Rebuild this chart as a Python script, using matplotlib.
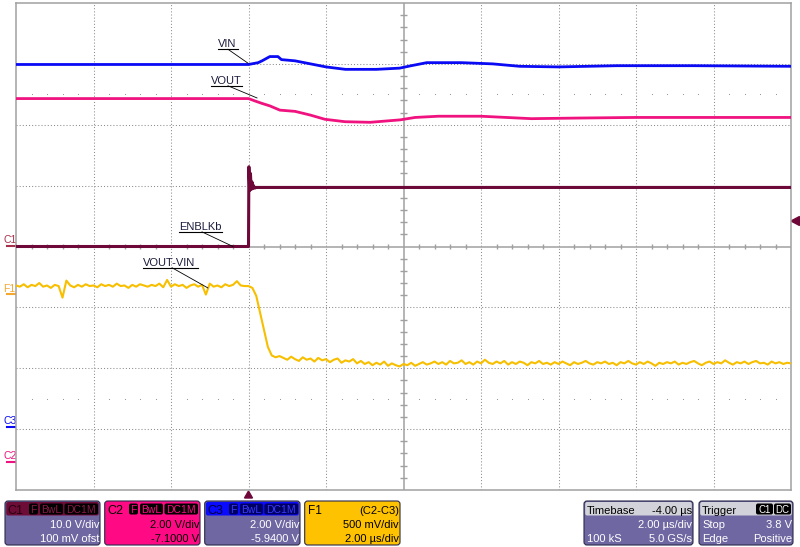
import numpy as np
import matplotlib.pyplot as plt
from matplotlib.patches import FancyBboxPatch, Polygon

plt.rcParams['font.family'] = ['Liberation Sans', 'DejaVu Sans']

# time in us (trigger at 0), levels in screen divisions from centre
t_vin = [-6.0, 0.0, 0.25, 0.35, 0.55, 0.76, 0.85, 1.2, 1.6, 2.0, 2.5, 3.3, 3.9, 4.2, 4.6,
         5.5, 6.3, 7.0, 8.0, 9.5, 11.5, 14.0]
vin = [2.99, 2.99, 3.02, 3.05, 3.12, 3.12, 3.07, 3.05, 3.0, 2.95, 2.91, 2.91, 2.93, 2.97, 3.02,
       3.02, 3.0, 2.96, 2.95, 2.97, 2.97, 2.96]

t_vout = [-6.0, 0.0, 0.17, 0.35, 0.55, 0.81, 1.2, 1.59, 1.97, 2.49, 3.14, 3.52, 3.91, 4.3,
          4.9, 6.0, 7.3, 8.5, 10.0, 14.0]
vout = [2.43, 2.43, 2.39, 2.35, 2.31, 2.24, 2.22, 2.16, 2.09, 2.05, 2.04, 2.06, 2.08, 2.12,
        2.14, 2.14, 2.10, 2.11, 2.12, 2.12]

t_en = [-6.0, 0.0, 0.01, 0.03, 0.05, 0.07, 0.09, 0.11, 0.13, 0.16, 0.2, 14.0]
enblk = [0.0, 0.0, 1.31, 0.92, 1.20, 0.94, 1.06, 0.95, 1.0, 0.96, 0.97, 0.97]

# F1 = C2-C3, sampled every 0.1 us from -6.0 to 14.0
f1_pre = [-0.64, -0.66, -0.62, -0.67, -0.63, -0.65, -0.60, -0.66, -0.64, -0.68,
          -0.63, -0.65, -0.84, -0.56, -0.64, -0.67, -0.63, -0.66, -0.62, -0.65,
          -0.64, -0.67, -0.62, -0.65, -0.63, -0.66, -0.61, -0.65, -0.64, -0.68,
          -0.63, -0.66, -0.62, -0.64, -0.66, -0.63, -0.65, -0.61, -0.67, -0.55,
          -0.66, -0.62, -0.65, -0.63, -0.68, -0.64, -0.62, -0.66, -0.63, -0.79,
          -0.61, -0.66, -0.64, -0.67, -0.62, -0.65, -0.63, -0.57, -0.64, -0.65]
f1_step = [-0.65, -0.68, -0.81, -1.09, -1.37, -1.65, -1.79, -1.82, -1.80]
f1_post = [-1.83, -1.86, -1.81, -1.85, -1.88, -1.82, -1.86, -1.84, -1.89, -1.83,
           -1.87, -1.85, -1.90, -1.86, -1.84, -1.91, -1.87, -1.89, -1.85, -1.92,
           -1.88, -1.93, -1.90, -1.95, -1.91, -1.94, -1.89, -1.96, -1.92, -1.95,
           -1.97, -1.93, -1.95, -1.91, -1.96, -1.93, -1.90, -1.94, -1.92, -1.89,
           -1.93, -1.90, -1.94, -1.88, -1.92, -1.91, -1.87, -1.93, -1.90, -1.94,
           -1.89, -1.92, -1.86, -1.91, -1.93, -1.89, -1.92, -1.88, -1.94, -1.90,
           -1.93, -1.89, -1.91, -1.95, -1.90, -1.92, -1.88, -1.93, -1.91, -1.94,
           -1.90, -1.93, -1.89, -1.92, -1.95, -1.90, -1.93, -1.91, -1.88, -1.92,
           -1.94, -1.90, -1.92, -1.89, -1.93, -1.91, -1.95, -1.90, -1.92, -1.88,
           -1.92, -1.94, -1.90, -1.93, -1.89, -1.92, -1.96, -1.91, -1.93, -1.90,
           -1.92, -1.89, -1.94, -1.91, -1.93, -1.90, -1.88, -1.92, -1.95, -1.91,
           -1.89, -1.93, -1.90, -1.92, -1.87, -1.91, -1.94, -1.90, -1.92, -1.89,
           -1.93, -1.90, -1.88, -1.92, -1.91, -1.94, -1.89, -1.92, -1.90, -1.93,
           -1.91, -1.92]
f1 = f1_pre + f1_step + f1_post
t_f1 = np.round(np.arange(len(f1)) * 0.1 - 6.0, 2)

c_blue = '#0a0af5'
c_pink = '#f0127f'
c_maroon = '#6e0838'
c_gold = '#f7bf00'
c_grid = '#8c8c8c'
c_frame = '#a0a0a0'
c_lav = '#6f67a2'

fig = plt.figure(figsize=(8, 5.47), dpi=100)
bg = fig.add_axes([0, 0, 1, 1])
bg.set_xlim(0, 800)
bg.set_ylim(547, 0)
bg.axis('off')

ax = fig.add_axes([16 / 800, 57 / 547, 775 / 800, 487 / 547])
ax.set_xlim(-6, 14)
ax.set_ylim(-4, 4)
ax.set_xticks([])
ax.set_yticks([])
for s in ax.spines.values():
    s.set_color(c_frame)
    s.set_linewidth(1.1)

# grid
for t in [-4, -2, 0, 2, 6, 8, 10, 12]:
    ax.axvline(t, color=c_grid, lw=0.75, ls=(0, (1, 2)), zorder=1)
for v in [-3, -2, -1, 1, 2, 3]:
    ax.axhline(v, color=c_grid, lw=0.75, ls=(0, (1, 2)), zorder=1)
ax.axvline(4, color=c_frame, lw=1.1, zorder=1)
ax.axhline(0, color=c_frame, lw=1.1, zorder=1)
minor_t = [t for t in np.round(np.arange(-6, 14.01, 0.4), 2) if abs(t / 2 - round(t / 2)) > 1e-6]
ax.vlines(minor_t, -0.045, 0.045, color=c_frame, lw=1.0, zorder=1)
minor_v = [v for v in np.round(np.arange(-4, 4.01, 0.2), 2) if abs(v - round(v)) > 1e-6]
ax.hlines(minor_v, 4 - 0.08, 4 + 0.08, color=c_frame, lw=1.0, zorder=1)
ax.plot(minor_t, [2.5] * len(minor_t), ls='none', marker='s', ms=0.75, mew=0, color='#999999', zorder=1)
ax.plot(minor_t, [-2.5] * len(minor_t), ls='none', marker='s', ms=0.75, mew=0, color='#999999', zorder=1)

# traces
ax.plot(t_vin, vin, color=c_blue, lw=2.0, zorder=3)
ax.plot(t_vout, vout, color=c_pink, lw=2.0, zorder=3)
ax.plot(t_en, enblk, color=c_maroon, lw=2.2, zorder=3)
ax.plot(t_f1, f1, color=c_gold, lw=1.5, zorder=3)

# trace labels with leaders
labels = [('VIN', -0.79, 3.28, -0.27, (-0.53, 3.24), (-0.01, 3.01)),
          ('VOUT', -0.97, 2.67, -0.17, (-0.53, 2.64), (0.22, 2.44)),
          ('ENBLKb', -1.79, 0.27, -0.69, (-1.2, 0.24), (-0.4, 0.0)),
          ('VOUT-VIN', -2.72, -0.32, -1.30, (-1.97, -0.35), (-1.05, -0.68))]
for txt, x0, y0, x1, p0, p1 in labels:
    ax.text(x0, y0, txt, fontsize=8, color='#1c1c3c', va='baseline', zorder=4)
    ax.plot([x0, x1], [y0 - 0.04, y0 - 0.04], color='black', lw=0.8, zorder=4)
    ax.plot([p0[0], p1[0]], [p0[1], p1[1]], color='black', lw=0.6, zorder=4)

# left channel markers
for txt, y, col in [('C1', 243, '#a8304a'), ('F1', 291.5, '#f5a830'),
                    ('C3', 424.5, c_blue), ('C2', 459, c_pink)]:
    bg.text(3.5, y, txt, fontsize=7.5, color=col, va='baseline')
    bg.plot([7, 17], [y + 2.5, y + 2.5], color=col, lw=1.5)

bg.add_patch(Polygon([(791, 221), (799.5, 216.5), (799.5, 225.5)], color=c_maroon))
bg.add_patch(Polygon([(248.5, 491), (244.5, 498), (252.5, 498)], color=c_maroon))


def panel(x0, x1, head, body):
    w = x1 - x0
    bg.add_patch(FancyBboxPatch((x0, 501), w, 44, boxstyle='round,pad=0,rounding_size=3',
                                fc=body, ec='#2a2a4a', lw=0.8))
    bg.add_patch(FancyBboxPatch((x0 + 1.2, 502), w - 2.4, 13.5,
                                boxstyle='round,pad=0,rounding_size=2', fc=head, ec='none'))


def tag(x0, x1, txt, fc, tc, size=7.5):
    bg.add_patch(FancyBboxPatch((x0, 503.5), x1 - x0, 11, boxstyle='round,pad=0,rounding_size=2',
                                fc=fc, ec='none'))
    bg.text((x0 + x1) / 2, 513, txt, fontsize=size, color=tc, ha='center', va='baseline')


def line(x, y, txt, col, ha='right'):
    bg.text(x, y, txt, fontsize=8, color=col, ha=ha, va='baseline')


panel(5, 100, '#6e0c38', c_lav)
bg.text(7, 513.5, 'C1', fontsize=9, color='#26000e', va='baseline')
tag(29, 38, 'F', 'black', '#8a1a48')
tag(40, 63, 'BwL', 'black', '#8a1a48')
tag(64.5, 98, 'DC1M', 'black', '#8a1a48')
line(99, 527.5, '10.0 V/div', 'white')
line(99, 542, '100 mV ofst', 'white')

panel(104.7, 200, '#ff0a84', '#ff0a84')
bg.text(107, 513.5, 'C2', fontsize=9, color='black', va='baseline')
tag(129, 138, 'F', 'black', '#ff0a84')
tag(140, 163, 'BwL', 'black', '#ff0a84')
tag(164.5, 198, 'DC1M', 'black', '#ff0a84')
line(199, 527.5, '2.00 V/div', 'black')
line(199, 542, '-7.1000 V', 'black')

panel(204.7, 300, '#0a0aff', c_lav)
bg.text(207, 513.5, 'C3', fontsize=9, color='#00003a', va='baseline')
tag(229, 238, 'F', '#000060', '#3a3aff')
tag(240, 263, 'BwL', '#000060', '#3a3aff')
tag(264.5, 298, 'DC1M', '#000060', '#3a3aff')
line(299, 527.5, '2.00 V/div', 'white')
line(299, 542, '-5.9400 V', 'white')

panel(304.7, 400, '#ffc200', '#ffc200')
bg.text(308, 513.5, 'F1', fontsize=8.5, color='black', va='baseline')
line(399, 513.5, '(C2-C3)', 'black')
line(399, 527.5, '500 mV/div', 'black')
line(399, 542, '2.00 \u00b5s/div', 'black')

panel(584, 693, '#d2d2da', c_lav)
line(587, 513.5, 'Timebase', 'black', ha='left')
line(692, 513.5, '-4.00 \u00b5s', 'black')
line(692, 527.5, '2.00 \u00b5s/div', 'white')
line(587, 542, '100 kS', 'white', ha='left')
line(692, 542, '5.0 GS/s', 'white')

panel(699, 793, '#d2d2da', c_lav)
line(702, 513.5, 'Trigger', 'black', ha='left')
tag(756, 773, 'C1', 'black', 'white', 7)
tag(774, 791, 'DC', 'black', 'white', 7)
line(702, 527.5, 'Stop', 'white', ha='left')
line(792, 527.5, '3.8 V', 'white')
line(702, 542, 'Edge', 'white', ha='left')
line(792, 542, 'Positive', 'white')

fig.savefig('out.png', dpi=100, facecolor='white')
